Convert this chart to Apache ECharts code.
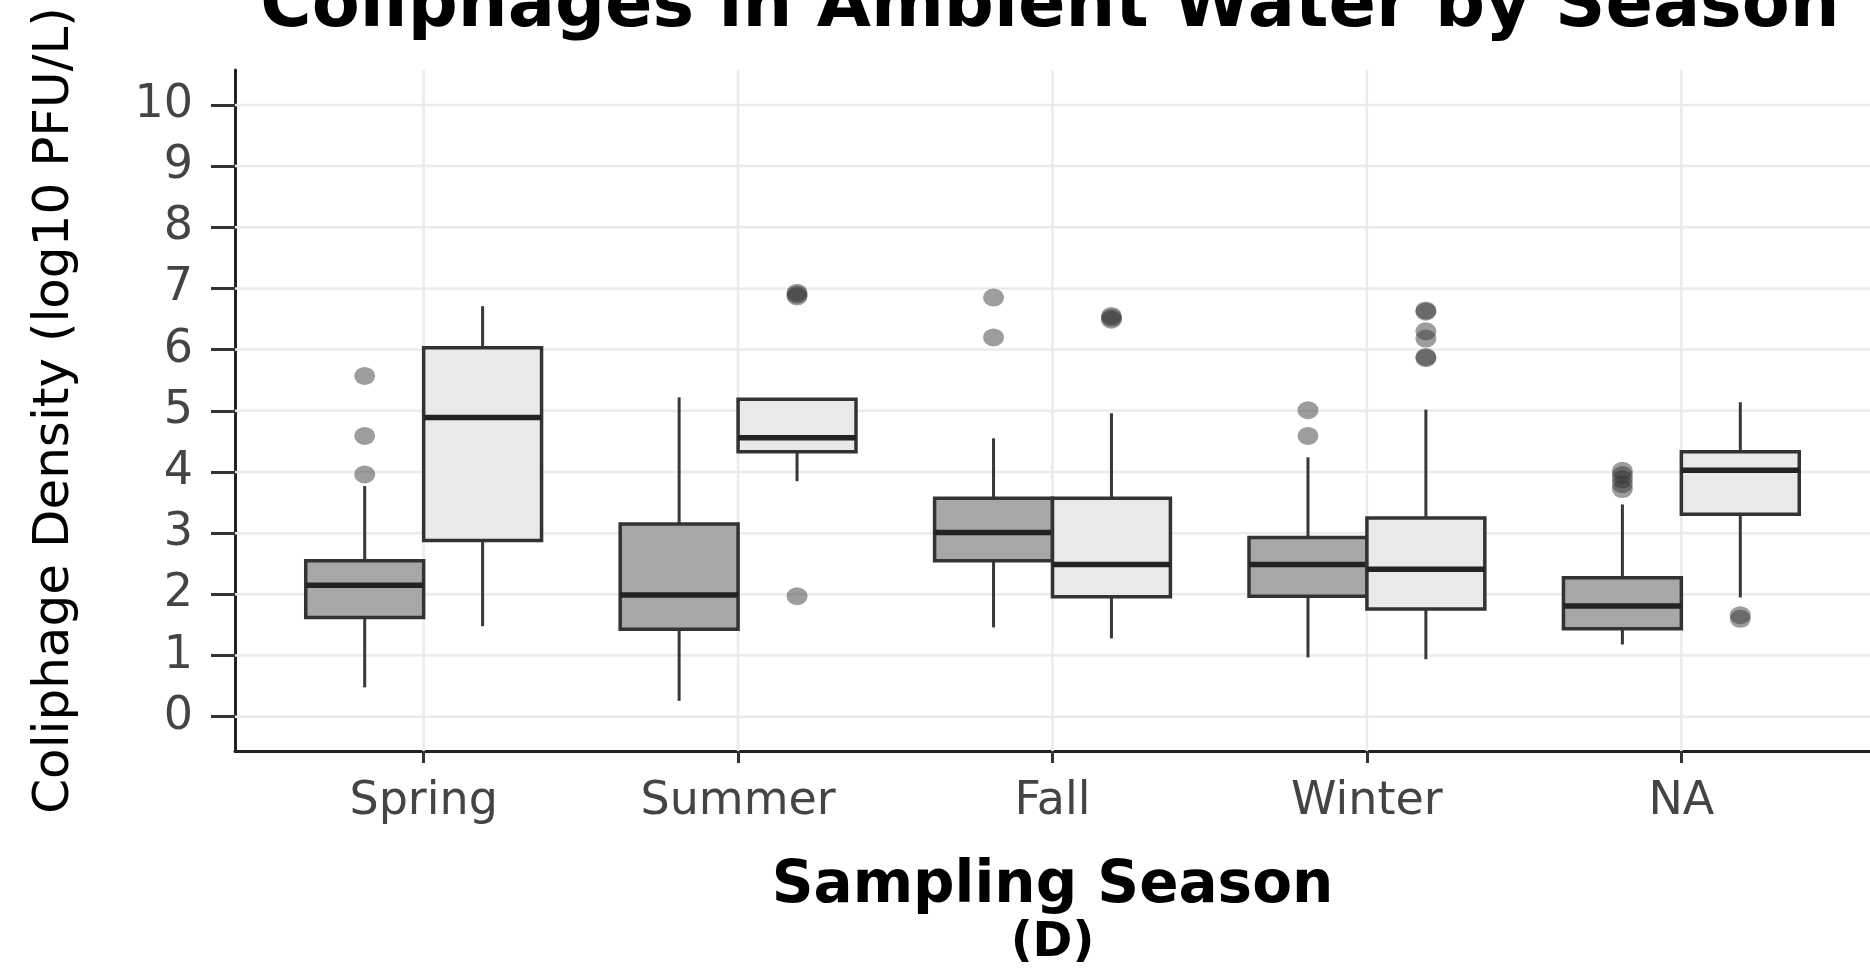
<!DOCTYPE html>
<html>
<head>
<meta charset="utf-8">
<script src="https://cdn.jsdelivr.net/npm/echarts@6/dist/echarts.min.js"></script>
<style>
html,body{margin:0;padding:0;background:#ffffff;}
#chart{width:1870px;height:973px;}
</style>
</head>
<body>
<div id="chart"></div>
<script>
// ---- data ----
const seasons = ['Spring', 'Summer', 'Fall', 'Winter', 'NA'];
const yTicks = [0, 1, 2, 3, 4, 5, 6, 7, 8, 9, 10];
const seasonTicks = [1, 2, 3, 4, 5];

// [min whisker, Q1, median, Q3, max whisker]
const darkBoxes = [
  [0.48, 1.62, 2.15, 2.55, 3.77],
  [0.26, 1.43, 1.99, 3.15, 5.22],
  [1.46, 2.55, 3.01, 3.57, 4.55],
  [0.97, 1.97, 2.49, 2.93, 4.24],
  [1.18, 1.44, 1.81, 2.27, 3.47]
];
const lightBoxes = [
  [1.48, 2.88, 4.89, 6.03, 6.71],
  [3.85, 4.33, 4.56, 5.19, 5.19],
  [1.28, 1.96, 2.49, 3.57, 4.96],
  [0.94, 1.76, 2.41, 3.25, 5.02],
  [1.95, 3.31, 4.03, 4.33, 5.14]
];
const darkOutliers = [
  [5.57, 4.59, 3.96],
  [],
  [6.85, 6.20],
  [5.01, 4.59],
  [4.02, 3.95, 3.88, 3.80, 3.72]
];
const lightOutliers = [
  [],
  [6.93, 6.90, 6.87, 1.97],
  [6.55, 6.52, 6.49],
  [6.64, 6.62, 6.30, 6.18, 5.88, 5.86],
  [1.66, 1.60]
];

// ---- build series data ----
const DODGE = 0.1875;
const fills = ['#a7a7a7', '#e9e9e9'];
const boxData = [];
const pointData = [];
seasons.forEach(function (s, i) {
  boxData.push([i + 1 - DODGE].concat(darkBoxes[i]).concat([0]));
  boxData.push([i + 1 + DODGE].concat(lightBoxes[i]).concat([1]));
  darkOutliers[i].forEach(function (v) { pointData.push([i + 1 - DODGE, v]); });
  lightOutliers[i].forEach(function (v) { pointData.push([i + 1 + DODGE, v]); });
});
const hGridData = yTicks.map(function (v) { return [1, v]; });
const vGridData = seasonTicks.map(function (v) { return [v, 0]; });

const gridStyle = { stroke: '#ebebeb', lineWidth: 2.5 };
function renderHGrid(params, api) {
  const cs = params.coordSys;
  const y = api.coord([api.value(0), api.value(1)])[1];
  return { type: 'line', shape: { x1: cs.x, y1: y, x2: cs.x + cs.width, y2: y }, style: gridStyle };
}
function renderVGrid(params, api) {
  const cs = params.coordSys;
  const x = api.coord([api.value(0), api.value(1)])[0];
  return { type: 'line', shape: { x1: x, y1: cs.y, x2: x, y2: cs.y + cs.height }, style: gridStyle };
}

function renderBox(params, api) {
  const x = api.value(0);
  const g = api.value(6);
  const half = api.size([DODGE, 0])[0];
  const pMin = api.coord([x, api.value(1)]);
  const pQ1 = api.coord([x, api.value(2)]);
  const pMed = api.coord([x, api.value(3)]);
  const pQ3 = api.coord([x, api.value(4)]);
  const pMax = api.coord([x, api.value(5)]);
  const cx = pMed[0];
  const whisker = { stroke: '#383838', lineWidth: 3 };
  return {
    type: 'group',
    children: [
      { type: 'line', shape: { x1: cx, y1: pQ1[1], x2: cx, y2: pMin[1] }, style: whisker },
      { type: 'line', shape: { x1: cx, y1: pQ3[1], x2: cx, y2: pMax[1] }, style: whisker },
      { type: 'rect', shape: { x: cx - half, y: pQ3[1], width: 2 * half, height: pQ1[1] - pQ3[1] },
        style: { fill: fills[g], stroke: '#333333', lineWidth: 3.5 } },
      { type: 'line', shape: { x1: cx - half, y1: pMed[1], x2: cx + half, y2: pMed[1] },
        style: { stroke: '#232323', lineWidth: 5.5 } }
    ]
  };
}

const FONT = 'DejaVu Sans';
const chart = echarts.init(document.getElementById('chart'), null, { renderer: 'canvas' });
chart.setOption({
  animation: false,
  backgroundColor: '#ffffff',
  title: {
    text: 'Coliphages in Ambient Water by Season',
    left: 1050,
    top: -27,
    padding: 0,
    textAlign: 'center',
    textStyle: { fontFamily: FONT, fontWeight: 'bold', fontSize: 70, color: '#000000' }
  },
  grid: { left: 235, right: -2, top: 70, bottom: 221, containLabel: false },
  xAxis: {
    type: 'value',
    min: 0.4,
    max: 5.6,
    name: '{a|Sampling Season}\n{b|(D)}',
    nameLocation: 'middle',
    nameGap: 106,
    nameTextStyle: {
      color: '#000000',
      rich: {
        a: { fontFamily: FONT, fontWeight: 'bold', fontSize: 58, lineHeight: 60, color: '#000000' },
        b: { fontFamily: FONT, fontWeight: 'bold', fontSize: 48, lineHeight: 54, color: '#000000' }
      }
    },
    axisLine: { show: true, onZero: false, lineStyle: { color: '#222222', width: 3 } },
    axisTick: { show: true, customValues: seasonTicks, length: 12, lineStyle: { color: '#333333', width: 3 } },
    axisLabel: {
      customValues: seasonTicks,
      formatter: function (v) { return seasons[Math.round(v) - 1]; },
      fontFamily: FONT, fontSize: 46, color: '#444444', margin: 28
    },
    splitLine: { show: false }
  },
  yAxis: {
    type: 'value',
    min: -0.56,
    max: 10.57,
    name: 'Coliphage Density (log10 PFU/L)',
    nameLocation: 'middle',
    nameRotate: 90,
    nameGap: 155,
    nameTextStyle: { fontFamily: FONT, fontSize: 50, color: '#000000' },
    axisLine: { show: true, onZero: false, lineStyle: { color: '#222222', width: 3 } },
    axisTick: { show: true, customValues: yTicks, length: 24, lineStyle: { color: '#333333', width: 3 } },
    axisLabel: {
      customValues: yTicks,
      fontFamily: FONT, fontSize: 46, color: '#444444', margin: 42
    },
    splitLine: { show: false }
  },
  series: [
    {
      type: 'custom',
      z: 1,
      silent: true,
      renderItem: renderHGrid,
      encode: { x: 0, y: 1 },
      data: hGridData
    },
    {
      type: 'custom',
      z: 1,
      silent: true,
      renderItem: renderVGrid,
      encode: { x: 0, y: 1 },
      data: vGridData
    },
    {
      type: 'custom',
      z: 3,
      renderItem: renderBox,
      encode: { x: 0, y: [1, 2, 3, 4, 5] },
      data: boxData
    },
    {
      type: 'scatter',
      z: 4,
      symbol: 'circle',
      symbolSize: [21, 18],
      itemStyle: { color: 'rgba(50,50,50,0.6)' },
      data: pointData
    }
  ]
});
</script>
</body>
</html>
